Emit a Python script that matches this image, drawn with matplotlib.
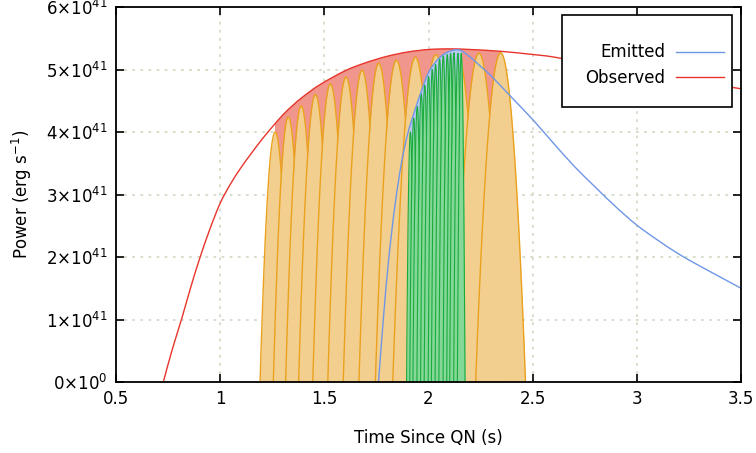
import numpy as np
import matplotlib
matplotlib.use("Agg")
import matplotlib.pyplot as plt
from matplotlib.patches import Rectangle, PathPatch
from matplotlib.path import Path
from matplotlib.lines import Line2D
from matplotlib.ticker import FuncFormatter, MultipleLocator

SCALE = 1e41

# observed luminosity curve (time s, power in 1e41 erg/s)
obs_t = [0.727, 0.77, 0.816, 0.86, 0.904, 0.95, 1.0, 1.05, 1.1, 1.15, 1.2,
         1.25, 1.3, 1.35, 1.4, 1.48, 1.6, 1.7, 1.8, 1.9, 2.0, 2.1, 2.2,
         2.35, 2.5, 2.6, 2.8, 3.0, 3.2, 3.466, 3.5]
obs_p = [0.0, 0.52, 1.02, 1.53, 2.0, 2.44, 2.86, 3.17, 3.43, 3.66, 3.88,
         4.08, 4.27, 4.43, 4.57, 4.76, 4.98, 5.11, 5.21, 5.28, 5.32, 5.33, 5.32,
         5.29, 5.24, 5.2, 5.08, 4.96, 4.85, 4.71, 4.69]

# emitted luminosity curve
emi_t = [1.76, 1.784, 1.81, 1.84, 1.87, 1.9, 1.93, 1.96, 2.0, 2.05, 2.1,
         2.15, 2.2, 2.25, 2.3, 2.4, 2.5, 2.6, 2.7, 2.8, 2.9, 3.0,
         3.1, 3.2, 3.3, 3.4, 3.5]
emi_p = [0.0, 1.04, 2.0, 2.85, 3.5, 3.97, 4.3, 4.6, 4.95, 5.18, 5.29,
         5.31, 5.2, 5.05, 4.9, 4.55, 4.2, 3.82, 3.45, 3.12, 2.8, 2.51,
         2.27, 2.05, 1.86, 1.68, 1.50]

# observed pulses (peak time, peak power)
orange_t = [1.264, 1.327, 1.389, 1.457, 1.529, 1.604, 1.681, 1.761, 1.846,
            1.937, 2.035, 2.138, 2.242, 2.346]
orange_p = [4.00, 4.24, 4.42, 4.60, 4.77, 4.88, 4.99, 5.10, 5.15,
            5.20, 5.24, 5.26, 5.26, 5.27]

# emitted pulses
green_t = [1.913, 1.929, 1.946, 1.965, 1.982, 2.0, 2.018, 2.034, 2.053,
           2.071, 2.090, 2.106, 2.122, 2.141, 2.157]
green_p = [4.00, 4.22, 4.41, 4.61, 4.75, 4.89, 5.00, 5.08, 5.17,
           5.22, 5.24, 5.26, 5.27, 5.26, 5.26]

xticks = [0.5, 1, 1.5, 2, 2.5, 3, 3.5]


def smooth_path(x, y, close=False):
    # Catmull-Rom through the points, drawn as cubic Bezier segments
    p = np.column_stack([x, y])
    verts = [p[0]]
    codes = [Path.MOVETO]
    n = len(p)
    for i in range(n - 1):
        p0 = p[max(i - 1, 0)]
        p1 = p[i]
        p2 = p[i + 1]
        p3 = p[min(i + 2, n - 1)]
        verts += [p1 + (p2 - p0) / 6, p2 - (p3 - p1) / 6, p2]
        codes += [Path.CURVE4] * 3
    if close:
        verts += [(x[-1], 0), (x[0], 0), p[0]]
        codes += [Path.LINETO, Path.LINETO, Path.CLOSEPOLY]
    return Path(verts, codes)


def draw_pulses(ax, centers, peaks, fill, edge, z, lw):
    c = np.array(centers)
    gaps = np.diff(c)
    for i in range(len(c)):
        left = gaps[i - 1] if i > 0 else gaps[0]
        right = gaps[i] if i < len(gaps) else gaps[-1]
        w = 1.15 * (left + right) / 2
        xs = np.linspace(c[i] - w, c[i] + w, 60)
        ys = peaks[i] * SCALE * np.clip(1 - ((xs - c[i]) / w) ** 2, 0, None)
        ax.fill_between(xs, ys, color=fill, lw=0, zorder=z + i * 0.01)
        ax.plot(xs, ys, color=edge, lw=lw, zorder=z + i * 0.01 + 0.005)


fig = plt.figure(figsize=(7.56, 4.53), dpi=100)
ax = fig.add_axes([116 / 756, 71 / 453, 625 / 756, 375 / 453])

ot = np.array(obs_t)
op = np.array(obs_p) * SCALE
et = np.array(emi_t)
ep = np.array(emi_p) * SCALE

red = "#e8352b"
blue = "#6f97e6"

# red band under observed curve across the pulse train
rf = PathPatch(smooth_path(ot, op, close=True), facecolor="#f0968c", lw=0, zorder=1)
ax.add_patch(rf)
rf.set_clip_path(Rectangle((orange_t[0], 0), orange_t[-1] - orange_t[0], 7 * SCALE,
                           transform=ax.transData))

draw_pulses(ax, orange_t, orange_p, "#f3cf8f", "#e9a11e", 2, 1.0)

bf = PathPatch(smooth_path(et, ep, close=True), facecolor="#b9c9f2", lw=0, zorder=3)
ax.add_patch(bf)
bf.set_clip_path(Rectangle((green_t[0], 0), green_t[-1] - green_t[0] + 0.005, 7 * SCALE,
                           transform=ax.transData))

draw_pulses(ax, green_t, green_p, "#85d898", "#1aab3d", 4, 0.8)

ax.add_patch(PathPatch(smooth_path(ot, op), facecolor="none", edgecolor=red,
                       lw=1.0, zorder=6))
ax.add_patch(PathPatch(smooth_path(et, ep), facecolor="none", edgecolor=blue,
                       lw=1.0, zorder=6))

ax.set_xlim(0.5, 3.5)
ax.set_ylim(0, 6 * SCALE)
ax.set_xticks(xticks)
ax.set_xticklabels(["0.5", "1", "1.5", "2", "2.5", "3", "3.5"])
ax.yaxis.set_major_locator(MultipleLocator(SCALE))


def yfmt(v, pos):
    n = int(round(v / SCALE))
    if n == 0:
        return r"$0{\times}10^{0}$"
    return r"$%d{\times}10^{41}$" % n


ax.yaxis.set_major_formatter(FuncFormatter(yfmt))
ax.tick_params(direction="in", length=6, width=1.2, top=True, right=True,
               labelsize=12, pad=6)
for s in ax.spines.values():
    s.set_linewidth(1.3)
    s.set_zorder(10)
ax.grid(True, color="#d3dbc6", linestyle=(0, (1.5, 3)), lw=1.3, zorder=0)
ax.set_axisbelow(True)

ax.set_xlabel("Time Since QN (s)", fontsize=12, labelpad=15)
ax.set_ylabel(r"Power (erg s$^{-1}$)", fontsize=12, labelpad=9)

# legend box
ax.add_patch(Rectangle((446 / 625, 1 - 100 / 375), 170 / 625, 92 / 375,
                       transform=ax.transAxes, facecolor="white",
                       edgecolor="black", lw=1.2, zorder=20))
handles = [Line2D([], [], color=blue, lw=1.0), Line2D([], [], color=red, lw=1.0)]
leg = ax.legend(handles, ["Emitted", "Observed"], loc="upper right",
                bbox_to_anchor=(0.986, 0.925), frameon=False, markerfirst=False,
                fontsize=12, handlelength=2.9, labelspacing=0.45,
                borderpad=0, handletextpad=0.6)
leg.set_zorder(21)

fig.savefig("out.png", dpi=100)
